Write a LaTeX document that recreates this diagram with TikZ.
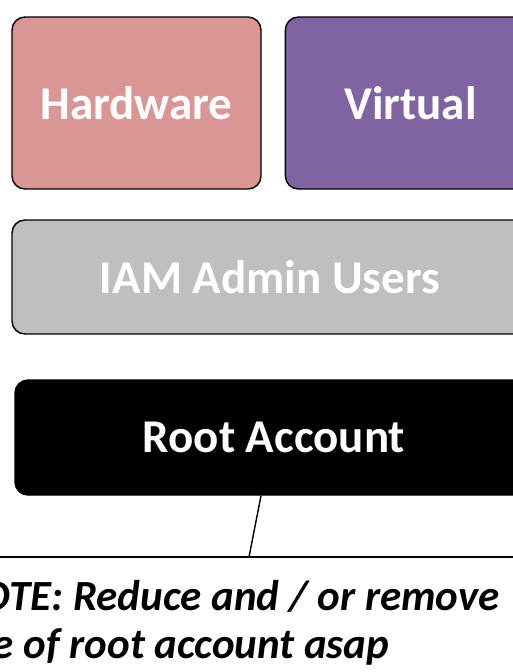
\documentclass[tikz,border=0pt]{standalone}
\usepackage{fontspec}
\setmainfont{Carlito}
\usepackage{xcolor}
\usetikzlibrary{positioning}

\definecolor{hwpink}{HTML}{D99694}
\definecolor{virtpurple}{HTML}{8064A2}
\definecolor{iamgrey}{HTML}{BFBFBF}

\begin{document}
\begin{tikzpicture}[x=1pt, y=-1pt, every node/.style={inner sep=0pt},
  box/.style={draw=black, line width=1.4pt, rounded corners=13pt, text=white,
    font=\fontsize{47}{56}\selectfont\bfseries},
  note/.style={font=\fontsize{43}{48}\selectfont\bfseries\itshape, align=left},
  link/.style={black, line width=1.4pt}]
\path[use as bounding box, clip] (0,0) rectangle (513,672);
% top row
\node[box, fill=hwpink, minimum width=249pt, minimum height=172pt] (hw) at (136.5,103) {Hardware};
\node[box, fill=virtpurple, minimum width=250pt, minimum height=172pt, right=23pt of hw] (virt) {Virtual};
% admin layer and root
\node[box, fill=iamgrey, minimum width=516pt, minimum height=114pt] (iam) at (270,277) {IAM Admin Users};
\node[box, fill=black, minimum width=518pt, minimum height=115pt] (root) at (274,437.5) {Root Account};
% note with its rule
\node[note, anchor=north west] (note) at (-47,580) {NOTE: Reduce and / or remove\\use of root account asap};
\coordinate (rulel) at (-10,557);
\coordinate (ruler) at (530,557);
\coordinate (tip) at (249,557);
\draw[link] (rulel) -- (ruler);
\draw[link] ([xshift=-13pt]root.south) -- (tip);
\end{tikzpicture}
\end{document}
